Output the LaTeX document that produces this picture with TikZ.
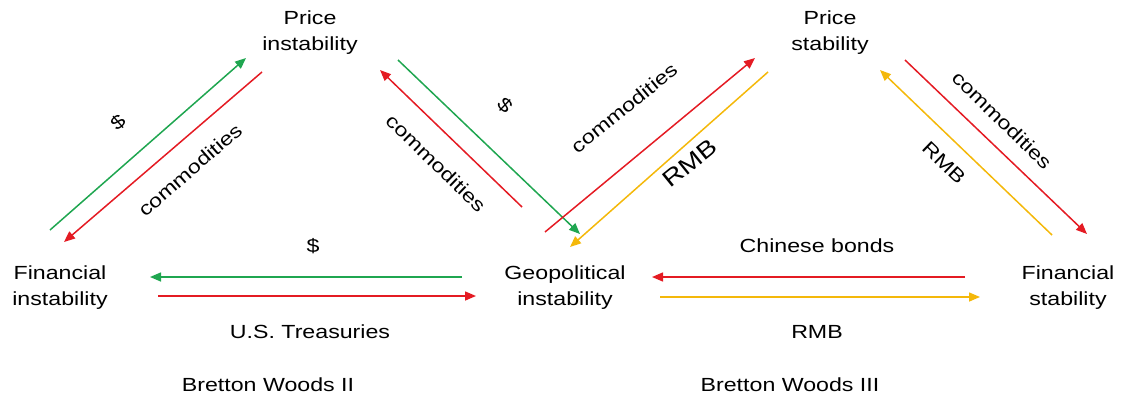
\documentclass[tikz,border=0pt]{standalone}
\usepackage{fontspec}
\setmainfont{Liberation Sans}[FakeStretch=1.22]
\usepackage{tikz}
\usetikzlibrary{arrows.meta}

\definecolor{usdgreen}{HTML}{1FA650}
\definecolor{goodsred}{HTML}{E41B23}
\definecolor{rmbyellow}{HTML}{F4B80A}

\tikzset{
  flow/.style={line width=1.5pt,-{Triangle[length=11pt,width=9pt]}},
  usdflow/.style={flow,color=usdgreen},
  goodsflow/.style={flow,color=goodsred},
  rmbflow/.style={flow,color=rmbyellow},
  lbl/.style={align=center,inner sep=1pt,font=\fontsize{19}{26}\selectfont},
}

\begin{document}
\begin{tikzpicture}[x=1pt,y=-1pt]
  \useasboundingbox
    (0,0)
    rectangle
    (1124,402);
  \node[lbl] (pinst) at (310,33) {Price\\instability};
  \node[lbl] (pstab) at (830,33) {Price\\stability};
  \node[lbl] (finst) at (60,288) {Financial\\instability};
  \node[lbl] (geo) at (565,288) {Geopolitical\\instability};
  \node[lbl] (fstab) at (1068,288) {Financial\\stability};

  \coordinate (a1s) at (50,230);
  \coordinate (a1e) at (246,58);
  \coordinate (a2s) at (262,72);
  \coordinate (a2e) at (64,242);
  \coordinate (a3s) at (522,207);
  \coordinate (a3e) at (380,70);
  \coordinate (a4s) at (398,60);
  \coordinate (a4e) at (580,234);
  \coordinate (b1s) at (545,232);
  \coordinate (b1e) at (755,58);
  \coordinate (b2s) at (768,72);
  \coordinate (b2e) at (570,247);
  \coordinate (b3s) at (905,60);
  \coordinate (b3e) at (1087,234);
  \coordinate (b4s) at (1052,235);
  \coordinate (b4e) at (880,70);
  \coordinate (c1s) at (462,277);
  \coordinate (c1e) at (150,277);
  \coordinate (c2s) at (158,296);
  \coordinate (c2e) at (476,296);
  \coordinate (c3s) at (965,277);
  \coordinate (c3e) at (652,277);
  \coordinate (c4s) at (660,297);
  \coordinate (c4e) at (980,297);

  \draw[usdflow]
    (a1s)
    --
    (a1e);
  \draw[goodsflow]
    (a2s)
    --
    (a2e);
  \draw[goodsflow]
    (a3s)
    --
    (a3e);
  \draw[usdflow]
    (a4s)
    --
    (a4e);
  \draw[goodsflow]
    (b1s)
    --
    (b1e);
  \draw[rmbflow]
    (b2s)
    --
    (b2e);
  \draw[goodsflow]
    (b3s)
    --
    (b3e);
  \draw[rmbflow]
    (b4s)
    --
    (b4e);
  \draw[usdflow]
    (c1s)
    --
    (c1e);
  \draw[goodsflow]
    (c2s)
    --
    (c2e);
  \draw[goodsflow]
    (c3s)
    --
    (c3e);
  \draw[rmbflow]
    (c4s)
    --
    (c4e);

  \node[lbl,rotate=41] (usdup) at (118,122) {\$};
  \node[lbl,rotate=41] (goodsdown) at (190,170) {commodities};
  \node[lbl,rotate=-44] (goodsup) at (436,163) {commodities};
  \node[lbl,rotate=-44] (usdgeo) at (505,105) {\$};
  \node[lbl,rotate=39] (goodsps) at (624,108) {commodities};
  \node[lbl,rotate=39,font=\fontsize{23}{26}\selectfont] (rmbgeo) at (690,163) {RMB};
  \node[lbl,rotate=-44] (goodsfs) at (1002,120) {commodities};
  \node[lbl,rotate=-44] (rmbps) at (944,163) {RMB};
  \node[lbl] (usdfi) at (313,246) {\$};
  \node[lbl] (ust) at (310,332) {U.S. Treasuries};
  \node[lbl] (cnb) at (817,246) {Chinese bonds};
  \node[lbl] (rmbfs) at (817,332) {RMB};
  \node[lbl] (bw2) at (268,385) {Bretton Woods II};
  \node[lbl] (bw3) at (790,385) {Bretton Woods III};
\end{tikzpicture}
\end{document}
